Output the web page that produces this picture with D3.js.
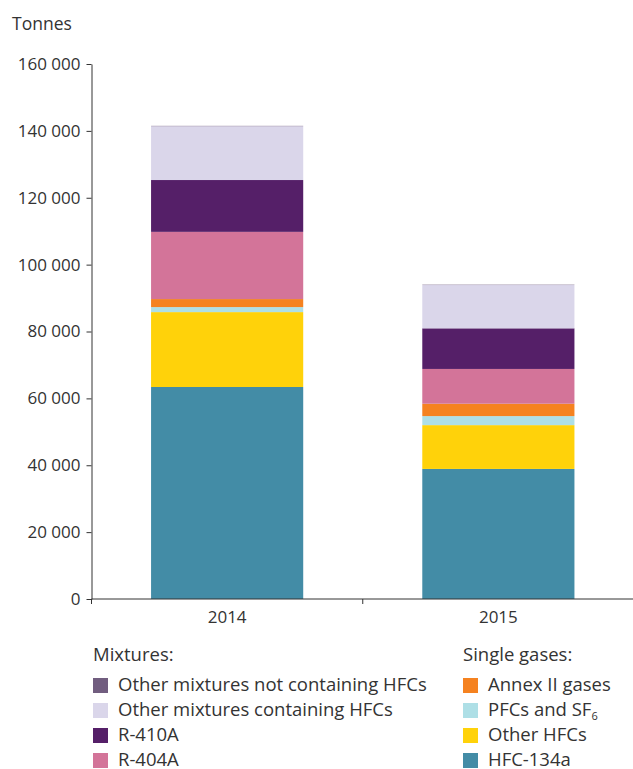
<!DOCTYPE html>
<html><head><meta charset="utf-8">
<script src="https://cdn.jsdelivr.net/npm/d3@7"></script>
<style>body{margin:0;background:#fff}svg{display:block;font-family:"Open Sans",sans-serif}</style>
</head><body><svg id="c" width="633" height="769"></svg>
<script>
const years = ["2014", "2015"];
const seriesNames = ["HFC-134a", "Other HFCs", "PFCs and SF6", "Annex II gases", "R-404A", "R-410A", "Other mixtures containing HFCs", "Other mixtures not containing HFCs"];
const hfc134a = [63400, 38900];
const otherHFCs = [22400, 13100];
const pfcs = [1500, 2700];
const annexII = [2400, 3700];
const r404a = [20100, 10400];
const r410a = [15500, 12150];
const otherMixHFC = [16100, 12950];
const otherMixNoHFC = [100, 100];
const colors = ["#438ca6", "#ffd20a", "#aedfe6", "#f58220", "#d37499", "#551f68", "#dad6ea", "#715d7f"];
const yTicks = [0, 20000, 40000, 60000, 80000, 100000, 120000, 140000, 160000];

const allSeries = [hfc134a, otherHFCs, pfcs, annexII, r404a, r410a, otherMixHFC, otherMixNoHFC];
const table = years.map((yr, i) => {
  const o = {year: yr};
  seriesNames.forEach((n, k) => o[n] = allSeries[k][i]);
  return o;
});
const stack = d3.stack().keys(seriesNames)(table);

const svg = d3.select("#c");
const mLeft = 91.5, mRight = 634, mTop = 64, mBottom = 599;
const x = d3.scaleBand().domain(years).range([mLeft, mRight]).paddingInner(0.439).paddingOuter(0.2196);
const y = d3.scaleLinear().domain([0, 160000]).range([mBottom, mTop]);
const color = d3.scaleOrdinal().domain(seriesNames).range(colors);

svg.append("g").selectAll("g").data(stack).join("g")
  .attr("fill", d => color(d.key))
  .selectAll("rect").data(d => d).join("rect")
  .attr("x", d => x(d.data.year))
  .attr("width", x.bandwidth())
  .attr("y", d => y(d[1]))
  .attr("height", d => Math.max(0, y(d[0]) - y(d[1])));

const fmt = v => d3.format(",")(v).replace(/,/g, " ");
const yAxis = svg.append("g").attr("transform", `translate(${mLeft},0)`)
  .call(d3.axisLeft(y).tickValues(yTicks).tickFormat(fmt).tickSizeInner(5).tickSizeOuter(0).tickPadding(6));
yAxis.select(".domain").attr("stroke", "#333");
yAxis.selectAll(".tick line").attr("stroke", "#333");
yAxis.selectAll("text").attr("font-size", 17).attr("fill", "#333").attr("font-family", "Open Sans");

// x axis
const xg = svg.append("g").attr("transform", `translate(0,${mBottom})`);
xg.append("line").attr("x1", mLeft).attr("x2", 633).attr("stroke", "#333");
const step = x.step();
const bounds = [mLeft, x("2015") - (step - x.bandwidth()) / 2];
xg.selectAll("line.t").data(bounds).join("line").attr("class", "t")
  .attr("x1", d => d).attr("x2", d => d).attr("y1", 0).attr("y2", 5).attr("stroke", "#333");
xg.selectAll("text").data(years).join("text")
  .attr("x", d => x(d) + x.bandwidth() / 2).attr("y", 24)
  .attr("text-anchor", "middle").attr("font-size", 17).attr("fill", "#333").text(d => d);

svg.append("text").attr("x", 12).attr("y", 30).attr("font-size", 17.5).attr("fill", "#333").text("Tonnes");

// legend
const leftLegend = ["Other mixtures not containing HFCs", "Other mixtures containing HFCs", "R-410A", "R-404A"];
const rightLegend = ["Annex II gases", "PFCs and SF6", "Other HFCs", "HFC-134a"];
function legendCol(x0, title, items) {
  const g = svg.append("g");
  g.append("text").attr("x", x0).attr("y", 661).attr("font-size", 18.5).attr("fill", "#333").text(title);
  items.forEach((n, i) => {
    const cy = 685 + i * 25;
    g.append("rect").attr("x", x0).attr("y", cy - 7).attr("width", 15).attr("height", 15).attr("fill", color(n));
    const t = g.append("text").attr("x", x0 + 25).attr("y", cy + 6).attr("font-size", 18.5).attr("fill", "#333");
    if (n === "PFCs and SF6") {
      t.text("PFCs and SF");
      t.append("tspan").attr("font-size", 11).attr("dy", 4).text("6");
    } else t.text(n);
  });
}
legendCol(93, "Mixtures:", leftLegend);
legendCol(463, "Single gases:", rightLegend);
</script></body></html>
